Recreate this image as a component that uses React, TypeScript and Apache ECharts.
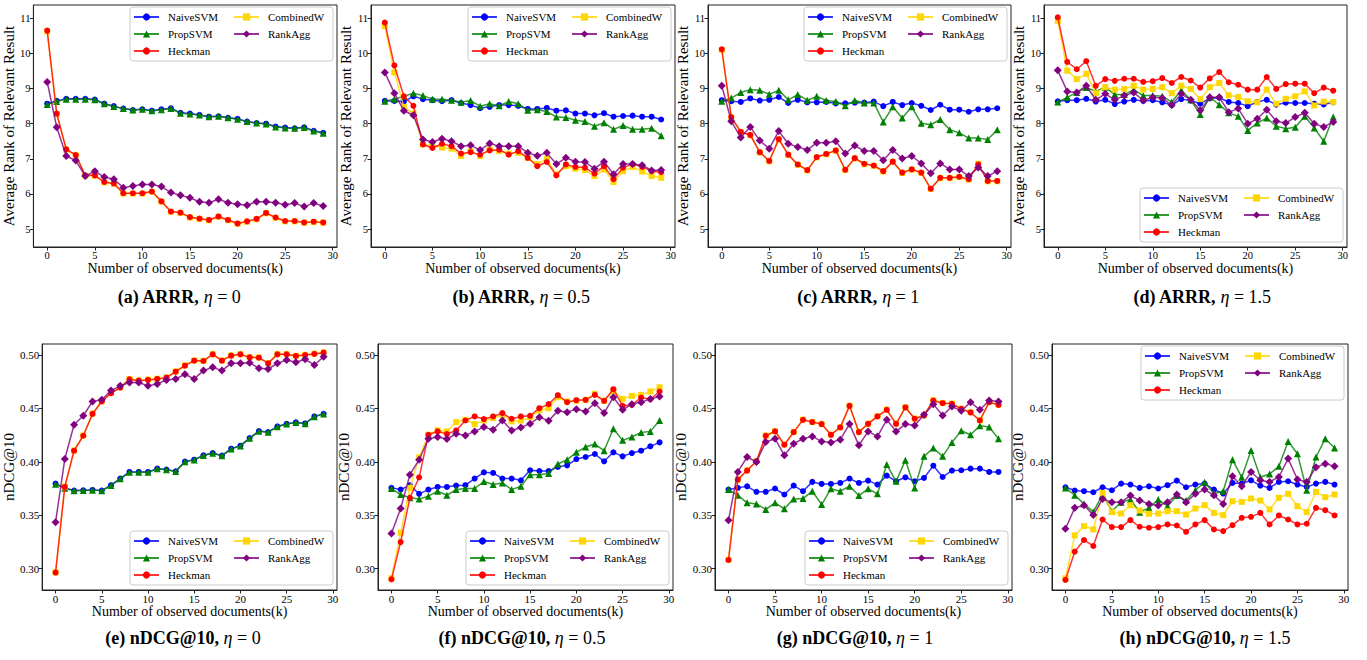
import React, { useEffect, useRef } from "react";
import * as echarts from "echarts";

// ---------- data ----------
const K = Array.from({ length: 30 }, (_, i) => i);
const X_TICKS = [0, 5, 10, 15, 20, 25, 30];
const ARRR_TICKS = [5, 6, 7, 8, 9, 10, 11];
const NDCG_TICKS = [0.3, 0.35, 0.4, 0.45, 0.5];
const SERIES_NAMES = ["NaiveSVM", "PropSVM", "Heckman", "CombinedW", "RankAgg"];

// (a) ARRR, eta = 0
const a_naive = [8.57, 8.65, 8.71, 8.71, 8.71, 8.69, 8.57, 8.5, 8.43, 8.39, 8.41, 8.37, 8.41, 8.44, 8.31, 8.29, 8.25, 8.2, 8.21, 8.17, 8.14, 8.06, 8.02, 8.0, 7.92, 7.89, 7.87, 7.9, 7.8, 7.74];
const a_prop = [8.55, 8.63, 8.7, 8.7, 8.7, 8.68, 8.57, 8.49, 8.43, 8.39, 8.41, 8.37, 8.4, 8.43, 8.3, 8.28, 8.25, 8.2, 8.21, 8.17, 8.13, 8.06, 8.02, 7.99, 7.91, 7.88, 7.87, 7.89, 7.79, 7.73];
const a_heck = [10.65, 8.29, 7.27, 7.11, 6.53, 6.53, 6.34, 6.3, 6.02, 6.02, 6.02, 6.07, 5.79, 5.5, 5.47, 5.34, 5.3, 5.26, 5.36, 5.26, 5.16, 5.22, 5.29, 5.46, 5.33, 5.23, 5.23, 5.19, 5.21, 5.19];
const a_comb = [10.63, 8.27, 7.26, 7.1, 6.52, 6.52, 6.33, 6.29, 6.01, 6.01, 6.01, 6.06, 5.78, 5.49, 5.46, 5.33, 5.29, 5.25, 5.35, 5.25, 5.15, 5.21, 5.28, 5.45, 5.32, 5.22, 5.22, 5.18, 5.2, 5.18];
const a_rank = [9.19, 7.9, 7.08, 6.95, 6.51, 6.65, 6.48, 6.42, 6.18, 6.23, 6.27, 6.27, 6.21, 6.04, 5.96, 5.89, 5.78, 5.75, 5.85, 5.75, 5.71, 5.68, 5.78, 5.78, 5.75, 5.69, 5.74, 5.64, 5.74, 5.66];

// (b) ARRR, eta = 0.5
const b_naive = [8.65, 8.65, 8.63, 8.78, 8.7, 8.67, 8.64, 8.67, 8.59, 8.53, 8.44, 8.48, 8.53, 8.53, 8.51, 8.42, 8.42, 8.45, 8.37, 8.38, 8.29, 8.29, 8.24, 8.3, 8.2, 8.22, 8.23, 8.2, 8.2, 8.12];
const b_prop = [8.64, 8.7, 8.78, 8.87, 8.8, 8.7, 8.7, 8.67, 8.61, 8.66, 8.5, 8.57, 8.51, 8.63, 8.57, 8.38, 8.4, 8.35, 8.19, 8.18, 8.1, 8.06, 7.93, 8.03, 7.84, 7.95, 7.84, 7.84, 7.87, 7.66];
const b_heck = [10.88, 9.66, 8.78, 8.51, 7.41, 7.31, 7.43, 7.36, 7.15, 7.19, 7.12, 7.24, 7.26, 7.12, 7.22, 7.03, 6.79, 6.91, 6.53, 6.84, 6.77, 6.75, 6.58, 6.79, 6.42, 6.75, 6.85, 6.77, 6.65, 6.62];
const b_comb = [10.78, 9.46, 8.48, 8.29, 7.41, 7.39, 7.32, 7.29, 7.08, 7.22, 7.08, 7.27, 7.22, 7.15, 7.17, 7.03, 6.85, 7.0, 6.56, 6.79, 6.72, 6.68, 6.51, 6.7, 6.34, 6.65, 6.77, 6.64, 6.51, 6.46];
const b_rank = [9.46, 8.87, 8.37, 8.24, 7.55, 7.48, 7.57, 7.5, 7.36, 7.39, 7.25, 7.44, 7.36, 7.36, 7.36, 7.17, 7.09, 7.17, 6.85, 7.03, 6.92, 6.91, 6.72, 6.92, 6.56, 6.85, 6.85, 6.82, 6.67, 6.68];

// (c) ARRR, eta = 1
const c_naive = [8.67, 8.64, 8.62, 8.72, 8.66, 8.68, 8.76, 8.59, 8.68, 8.61, 8.61, 8.62, 8.58, 8.58, 8.6, 8.6, 8.63, 8.5, 8.62, 8.53, 8.59, 8.51, 8.39, 8.54, 8.4, 8.4, 8.34, 8.41, 8.41, 8.44];
const c_prop = [8.64, 8.73, 8.89, 8.97, 8.95, 8.84, 8.95, 8.68, 8.83, 8.67, 8.78, 8.66, 8.63, 8.51, 8.66, 8.59, 8.59, 8.05, 8.48, 8.16, 8.48, 8.01, 7.97, 8.12, 7.83, 7.74, 7.59, 7.59, 7.55, 7.83];
const c_heck = [10.12, 8.19, 7.77, 7.68, 7.19, 6.94, 7.56, 7.12, 6.84, 6.68, 7.05, 7.14, 7.24, 6.69, 7.02, 6.86, 6.81, 6.65, 6.92, 6.61, 6.7, 6.61, 6.15, 6.46, 6.46, 6.49, 6.42, 6.84, 6.37, 6.37];
const c_comb = [10.1, 8.17, 7.76, 7.67, 7.18, 6.93, 7.55, 7.11, 6.83, 6.67, 7.04, 7.13, 7.23, 6.68, 7.01, 6.85, 6.8, 6.64, 6.91, 6.6, 6.69, 6.6, 6.14, 6.45, 6.45, 6.48, 6.41, 6.86, 6.36, 6.36];
const c_rank = [9.08, 8.07, 7.61, 7.91, 7.52, 7.29, 7.79, 7.43, 7.34, 7.25, 7.46, 7.46, 7.5, 7.15, 7.38, 7.22, 7.22, 6.96, 7.25, 7.01, 7.08, 6.87, 6.59, 6.87, 6.7, 6.7, 6.51, 6.75, 6.51, 6.65];

// (d) ARRR, eta = 1.5
const d_naive = [8.64, 8.67, 8.67, 8.71, 8.63, 8.68, 8.56, 8.63, 8.68, 8.65, 8.67, 8.61, 8.53, 8.7, 8.66, 8.57, 8.72, 8.74, 8.62, 8.59, 8.5, 8.62, 8.68, 8.54, 8.6, 8.59, 8.59, 8.57, 8.55, 8.61];
const d_prop = [8.62, 8.75, 8.89, 9.03, 8.92, 9.04, 8.83, 8.83, 8.97, 8.8, 8.8, 8.78, 8.62, 8.95, 8.68, 8.26, 8.76, 8.54, 8.31, 8.21, 7.81, 8.02, 8.16, 7.93, 7.86, 7.9, 8.21, 7.88, 7.5, 8.19];
const d_heck = [11.03, 9.76, 9.55, 9.78, 9.08, 9.27, 9.22, 9.28, 9.28, 9.19, 9.21, 9.3, 9.16, 9.33, 9.23, 9.03, 9.29, 9.47, 9.18, 9.11, 8.97, 8.97, 9.33, 8.99, 9.13, 9.14, 9.14, 8.87, 9.03, 8.94];
const d_comb = [10.93, 9.51, 9.27, 9.42, 8.87, 9.04, 8.97, 8.99, 9.08, 8.97, 8.99, 9.04, 8.87, 9.08, 8.99, 8.7, 9.04, 9.16, 8.81, 8.76, 8.64, 8.61, 8.97, 8.57, 8.71, 8.78, 8.92, 8.52, 8.63, 8.62];
const d_rank = [9.52, 8.92, 8.89, 9.08, 8.68, 8.85, 8.68, 8.8, 8.89, 8.66, 8.75, 8.73, 8.53, 8.85, 8.68, 8.38, 8.75, 8.75, 8.33, 8.43, 8.0, 8.14, 8.4, 8.07, 8.02, 8.19, 8.31, 8.0, 7.91, 8.05];

// (e) nDCG@10, eta = 0
const e_naive = [0.3796, 0.3756, 0.3731, 0.3734, 0.3737, 0.3731, 0.3781, 0.3843, 0.3905, 0.3905, 0.3905, 0.3936, 0.3927, 0.3911, 0.4002, 0.402, 0.4061, 0.4082, 0.4058, 0.4123, 0.4151, 0.4222, 0.4288, 0.4278, 0.4331, 0.4356, 0.4369, 0.4359, 0.4425, 0.4449];
const e_prop = [0.379, 0.3752, 0.3728, 0.3732, 0.3735, 0.3729, 0.3779, 0.3841, 0.3903, 0.3903, 0.3903, 0.3934, 0.3925, 0.3909, 0.4, 0.4018, 0.4059, 0.408, 0.4056, 0.4121, 0.4149, 0.422, 0.4286, 0.4276, 0.4329, 0.4354, 0.4367, 0.4357, 0.4423, 0.4447];
const e_heck = [0.2963, 0.3765, 0.4104, 0.4244, 0.4449, 0.4565, 0.4642, 0.4695, 0.4773, 0.476, 0.4767, 0.4776, 0.4788, 0.4844, 0.49, 0.4947, 0.4944, 0.5006, 0.4947, 0.4994, 0.5006, 0.4978, 0.4975, 0.4922, 0.5006, 0.5006, 0.4991, 0.5, 0.501, 0.5022];
const e_comb = [0.2965, 0.3768, 0.4106, 0.4246, 0.4452, 0.4567, 0.4644, 0.4697, 0.4776, 0.4762, 0.477, 0.4778, 0.479, 0.4846, 0.4903, 0.4949, 0.4946, 0.5008, 0.4949, 0.4996, 0.5008, 0.498, 0.4977, 0.4924, 0.5008, 0.5008, 0.4993, 0.5002, 0.5012, 0.5024];
const e_rank = [0.3435, 0.4026, 0.4347, 0.4431, 0.4565, 0.458, 0.4667, 0.4711, 0.4742, 0.4742, 0.4711, 0.4729, 0.4767, 0.4776, 0.482, 0.4776, 0.4854, 0.4885, 0.4854, 0.4922, 0.4922, 0.4928, 0.4876, 0.4869, 0.4922, 0.4953, 0.4932, 0.496, 0.4907, 0.4984];

// (f) nDCG@10, eta = 0.5
const f_naive = [0.3756, 0.374, 0.3781, 0.37, 0.374, 0.3765, 0.3765, 0.3778, 0.3781, 0.3843, 0.3902, 0.3896, 0.3843, 0.3843, 0.3827, 0.3921, 0.3914, 0.3914, 0.3952, 0.3967, 0.4026, 0.4045, 0.4073, 0.4005, 0.4089, 0.4051, 0.4082, 0.4104, 0.4145, 0.4182];
const f_prop = [0.375, 0.3694, 0.3663, 0.3653, 0.3678, 0.3725, 0.3687, 0.374, 0.375, 0.375, 0.3815, 0.3787, 0.3802, 0.374, 0.3771, 0.388, 0.388, 0.389, 0.398, 0.402, 0.4089, 0.4138, 0.4166, 0.4104, 0.431, 0.4201, 0.4232, 0.4275, 0.4285, 0.4387];
const f_heck = [0.29, 0.3249, 0.3663, 0.3855, 0.4253, 0.4285, 0.426, 0.4294, 0.4387, 0.4425, 0.44, 0.4425, 0.4456, 0.4403, 0.4425, 0.4431, 0.4502, 0.454, 0.4624, 0.4558, 0.4577, 0.458, 0.4627, 0.4571, 0.468, 0.4524, 0.4533, 0.4602, 0.4586, 0.4658];
const f_comb = [0.291, 0.3336, 0.3756, 0.4042, 0.4253, 0.4294, 0.4285, 0.4372, 0.4393, 0.4353, 0.4387, 0.4409, 0.444, 0.4378, 0.4387, 0.4418, 0.4481, 0.4502, 0.4605, 0.4565, 0.4571, 0.458, 0.4636, 0.4571, 0.4664, 0.4589, 0.4617, 0.4627, 0.4658, 0.4698];
const f_rank = [0.333, 0.3563, 0.388, 0.402, 0.4216, 0.4232, 0.4213, 0.4263, 0.4247, 0.4285, 0.4325, 0.43, 0.4387, 0.4294, 0.4322, 0.4356, 0.4418, 0.4384, 0.4477, 0.4465, 0.4493, 0.4471, 0.4549, 0.4456, 0.4605, 0.4487, 0.454, 0.4558, 0.4589, 0.4611];

// (g) nDCG@10, eta = 1
const g_naive = [0.374, 0.3756, 0.3771, 0.3719, 0.3719, 0.375, 0.3694, 0.3778, 0.3725, 0.3812, 0.3793, 0.3793, 0.3802, 0.3843, 0.3802, 0.3824, 0.3787, 0.3871, 0.3818, 0.3855, 0.3818, 0.3849, 0.3964, 0.3858, 0.3918, 0.3921, 0.3936, 0.3936, 0.3905, 0.3905];
const g_prop = [0.374, 0.3687, 0.3616, 0.3606, 0.3554, 0.3616, 0.356, 0.3653, 0.3656, 0.3725, 0.36, 0.3747, 0.3725, 0.3771, 0.3684, 0.3747, 0.37, 0.3974, 0.3818, 0.4014, 0.3756, 0.4051, 0.4129, 0.4051, 0.4182, 0.4291, 0.4253, 0.4337, 0.4325, 0.4216];
const g_heck = [0.3081, 0.3834, 0.3918, 0.4005, 0.4244, 0.4285, 0.416, 0.4278, 0.4393, 0.4372, 0.4353, 0.4253, 0.4322, 0.4524, 0.4278, 0.4356, 0.4425, 0.4487, 0.4356, 0.4509, 0.4403, 0.4434, 0.4574, 0.4549, 0.4543, 0.4496, 0.4462, 0.4387, 0.4558, 0.4533];
const g_comb = [0.3083, 0.3836, 0.392, 0.4007, 0.4246, 0.4287, 0.4162, 0.428, 0.4395, 0.4374, 0.4355, 0.4255, 0.4324, 0.4526, 0.428, 0.4358, 0.4427, 0.4489, 0.4358, 0.4511, 0.4405, 0.4436, 0.4576, 0.4551, 0.4545, 0.4498, 0.4464, 0.4389, 0.456, 0.4535];
const g_rank = [0.3454, 0.3905, 0.4045, 0.3998, 0.4185, 0.4216, 0.4061, 0.417, 0.4216, 0.4238, 0.4191, 0.4182, 0.4207, 0.4353, 0.4154, 0.4285, 0.4238, 0.4393, 0.4285, 0.4353, 0.4341, 0.444, 0.454, 0.4434, 0.4518, 0.4477, 0.4558, 0.4487, 0.4574, 0.4565];

// (h) nDCG@10, eta = 1.5
const h_naive = [0.3762, 0.3731, 0.3725, 0.3715, 0.3762, 0.3734, 0.3796, 0.3787, 0.3756, 0.3771, 0.375, 0.3781, 0.3824, 0.3762, 0.3787, 0.3796, 0.374, 0.3703, 0.3802, 0.3796, 0.3827, 0.3778, 0.3756, 0.3812, 0.3818, 0.3787, 0.3765, 0.3796, 0.3812, 0.3787];
const h_prop = [0.3756, 0.3687, 0.3606, 0.3532, 0.3694, 0.3538, 0.3622, 0.3647, 0.3529, 0.3569, 0.3647, 0.3585, 0.3684, 0.3638, 0.3734, 0.3809, 0.3703, 0.3725, 0.402, 0.3855, 0.4107, 0.3855, 0.3886, 0.3958, 0.4191, 0.4076, 0.3734, 0.4045, 0.4216, 0.4129];
const h_heck = [0.2894, 0.3159, 0.3268, 0.3212, 0.346, 0.3389, 0.3389, 0.3454, 0.3392, 0.3383, 0.3389, 0.3414, 0.3404, 0.3345, 0.3414, 0.3454, 0.3367, 0.3352, 0.3407, 0.3476, 0.3485, 0.3522, 0.3414, 0.3498, 0.346, 0.3414, 0.342, 0.3569, 0.3547, 0.3498];
const h_comb = [0.291, 0.3311, 0.3398, 0.3367, 0.3709, 0.3529, 0.3516, 0.3594, 0.3544, 0.3513, 0.3516, 0.3538, 0.3538, 0.3507, 0.3563, 0.3594, 0.3522, 0.3501, 0.3631, 0.3625, 0.3656, 0.3638, 0.3554, 0.3663, 0.37, 0.3585, 0.3529, 0.3719, 0.3669, 0.3694];
const h_rank = [0.3373, 0.3569, 0.3594, 0.3501, 0.3653, 0.3622, 0.3622, 0.3684, 0.3638, 0.3606, 0.3591, 0.3622, 0.3694, 0.3622, 0.37, 0.374, 0.3687, 0.3606, 0.3865, 0.3771, 0.3905, 0.3827, 0.3812, 0.3858, 0.403, 0.3834, 0.3812, 0.3949, 0.3983, 0.3958];

// ---------- styling / layout ----------
const FONT = "'Liberation Serif', 'DejaVu Serif', serif";
const STYLE: Record<string, { color: string; symbol: string; size: number }> = {
  NaiveSVM: { color: "#0000ff", symbol: "circle", size: 6 },
  PropSVM: { color: "#008000", symbol: "triangle", size: 7 },
  Heckman: { color: "#ff0000", symbol: "circle", size: 6 },
  CombinedW: { color: "#ffd700", symbol: "rect", size: 6 },
  RankAgg: { color: "#800080", symbol: "diamond", size: 8 },
};
const DRAW_ORDER = ["NaiveSVM", "PropSVM", "CombinedW", "Heckman", "RankAgg"];

type Panel = {
  label: string;
  metric: "arrr" | "ndcg";
  eta: string;
  left: number;
  top: number;
  width: number;
  height: number;
  legend: "upper" | "lower";
  capX: number;
  capY: number;
  values: Record<string, number[]>;
};

const TOP_Y = 5, TOP_H = 242, BOT_Y = 344, BOT_H = 246;

const PANELS: Panel[] = [
  { label: "(a)", metric: "arrr", eta: "0", left: 33, top: TOP_Y, width: 304, height: TOP_H, legend: "upper", capX: 179, capY: 297,
    values: { NaiveSVM: a_naive, PropSVM: a_prop, Heckman: a_heck, CombinedW: a_comb, RankAgg: a_rank } },
  { label: "(b)", metric: "arrr", eta: "0.5", left: 371, top: TOP_Y, width: 304, height: TOP_H, legend: "upper", capX: 521, capY: 297,
    values: { NaiveSVM: b_naive, PropSVM: b_prop, Heckman: b_heck, CombinedW: b_comb, RankAgg: b_rank } },
  { label: "(c)", metric: "arrr", eta: "1", left: 708, top: TOP_Y, width: 303, height: TOP_H, legend: "upper", capX: 858, capY: 297,
    values: { NaiveSVM: c_naive, PropSVM: c_prop, Heckman: c_heck, CombinedW: c_comb, RankAgg: c_rank } },
  { label: "(d)", metric: "arrr", eta: "1.5", left: 1044, top: TOP_Y, width: 303, height: TOP_H, legend: "lower", capX: 1202, capY: 297,
    values: { NaiveSVM: d_naive, PropSVM: d_prop, Heckman: d_heck, CombinedW: d_comb, RankAgg: d_rank } },
  { label: "(e)", metric: "ndcg", eta: "0", left: 42, top: BOT_Y, width: 295, height: BOT_H, legend: "lower", capX: 183, capY: 638,
    values: { NaiveSVM: e_naive, PropSVM: e_prop, Heckman: e_heck, CombinedW: e_comb, RankAgg: e_rank } },
  { label: "(f)", metric: "ndcg", eta: "0.5", left: 378, top: BOT_Y, width: 295, height: BOT_H, legend: "lower", capX: 522, capY: 638,
    values: { NaiveSVM: f_naive, PropSVM: f_prop, Heckman: f_heck, CombinedW: f_comb, RankAgg: f_rank } },
  { label: "(g)", metric: "ndcg", eta: "1", left: 715, top: BOT_Y, width: 297, height: BOT_H, legend: "lower", capX: 855, capY: 638,
    values: { NaiveSVM: g_naive, PropSVM: g_prop, Heckman: g_heck, CombinedW: g_comb, RankAgg: g_rank } },
  { label: "(h)", metric: "ndcg", eta: "1.5", left: 1052, top: BOT_Y, width: 296, height: BOT_H, legend: "upper", capX: 1205, capY: 638,
    values: { NaiveSVM: h_naive, PropSVM: h_prop, Heckman: h_heck, CombinedW: h_comb, RankAgg: h_rank } },
];

const W = 1367, H = 660;

function buildOption() {
  const grid: any[] = [], xAxis: any[] = [], yAxis: any[] = [], series: any[] = [], legend: any[] = [], graphic: any[] = [];
  PANELS.forEach((p, i) => {
    const isArrr = p.metric === "arrr";
    grid.push({ left: p.left, top: p.top, width: p.width, height: p.height, show: true, borderColor: "#222", borderWidth: 1, backgroundColor: "transparent" });
    xAxis.push({
      gridIndex: i, type: "value", min: -1.45, max: 30.45,
      name: "Number of observed documents(k)", nameLocation: "middle", nameGap: 14,
      nameTextStyle: { fontFamily: FONT, fontSize: 14, color: "#000" },
      axisLine: { show: true, onZero: false, lineStyle: { color: "#222", width: 1 } },
      axisTick: { show: true, customValues: X_TICKS, length: 3.5, lineStyle: { color: "#222" } },
      axisLabel: { customValues: X_TICKS, fontFamily: FONT, fontSize: isArrr ? 10.5 : 11, color: "#000", margin: 3 },
      splitLine: { show: false },
    });
    yAxis.push({
      gridIndex: i, type: "value",
      min: isArrr ? 4.49 : 0.28, max: isArrr ? 11.38 : 0.5103,
      name: isArrr ? "Average Rank of Relevant Result" : "nDCG@10", nameLocation: "middle",
      nameGap: isArrr ? 16 : 24,
      nameTextStyle: { fontFamily: FONT, fontSize: 15, color: "#000" },
      axisLine: { show: true, onZero: false, lineStyle: { color: "#222", width: 1 } },
      axisTick: { show: true, customValues: isArrr ? ARRR_TICKS : NDCG_TICKS, length: 3.5, lineStyle: { color: "#222" } },
      axisLabel: {
        customValues: isArrr ? ARRR_TICKS : NDCG_TICKS, fontFamily: FONT, fontSize: isArrr ? 10.5 : 11, color: "#000", margin: 3,
        formatter: (v: number) => (isArrr ? String(v) : v.toFixed(2)),
      },
      splitLine: { show: false },
    });
    DRAW_ORDER.forEach((name, si) => {
      const st = STYLE[name];
      const vals = p.values[name];
      series.push({
        type: "line", name, xAxisIndex: i, yAxisIndex: i,
        data: K.map((k, j) => [k, vals[j]]),
        symbol: st.symbol, symbolSize: st.size, showSymbol: true,
        lineStyle: { color: st.color, width: 1.5, opacity: 0.8 },
        itemStyle: { color: st.color },
        emphasis: { disabled: true }, silent: true, z: 2 + si * 0.01,
      });
    });
    const right = W - (p.left + p.width) + 4;
    const pos: any = p.legend === "upper" ? { top: p.top + 2 } : { bottom: H - (p.top + p.height) + 5 };
    legend.push({
      ...pos, right, orient: "vertical", height: 54, padding: [3, 3, 3, 3], itemGap: 3,
      itemWidth: 25, itemHeight: 9, data: SERIES_NAMES, selectedMode: false,
      textStyle: { fontFamily: FONT, fontSize: 11, color: "#000", width: 62, lineHeight: 14, padding: [0, 0, 0, 4] },
      backgroundColor: "rgba(255,255,255,0.85)", borderColor: "#cccccc", borderWidth: 1, borderRadius: 3, z: 10,
    });
    graphic.push({
      type: "text", x: p.capX, y: p.capY,
      style: {
        text: `{b|${p.label} ${isArrr ? "ARRR" : "nDCG@10"},} {i|η} = ${p.eta}`,
        fontFamily: FONT, fontSize: 18, fill: "#000", align: "center", verticalAlign: "middle",
        rich: {
          b: { fontFamily: FONT, fontSize: 18, fontWeight: "bold", fill: "#000" },
          i: { fontFamily: FONT, fontSize: 18, fontStyle: "italic", fill: "#000" },
        },
      },
    });
  });
  return { animation: false, backgroundColor: "#ffffff", grid, xAxis, yAxis, series, legend, graphic };
}

export default function App() {
  const ref = useRef<HTMLDivElement>(null);
  useEffect(() => {
    document.body.style.margin = "0";
    if (!ref.current) return;
    const chart = echarts.init(ref.current, undefined, { renderer: "svg" });
    chart.setOption(buildOption());
    return () => chart.dispose();
  }, []);
  return <div ref={ref} style={{ width: W, height: H }} />;
}
